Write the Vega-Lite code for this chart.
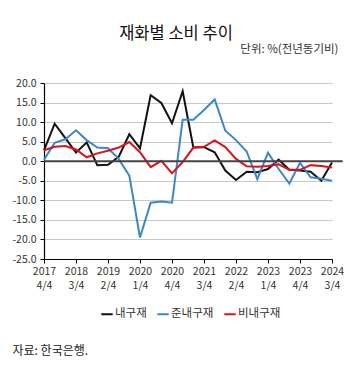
{
  "$schema": "https://vega.github.io/schema/vega-lite/v6.json",
  "width": 288,
  "height": 176,
  "autosize": {"type": "none"},
  "padding": {"left": 44, "top": 83, "right": 21, "bottom": 112},
  "background": "white",
  "config": {
    "font": "Noto Sans CJK KR",
    "view": {"stroke": null},
    "axis": {"labelFont": "Noto Sans CJK KR", "titleFont": "Noto Sans CJK KR", "labelColor": "#333", "titleColor": "#333"},
    "legend": {"labelFont": "Noto Sans CJK KR"}
  },
  "title": {
    "text": "재화별 소비 추이",
    "anchor": "middle",
    "frame": "group",
    "dx": -12,
    "dy": 1,
    "offset": 2,
    "fontSize": 16.5,
    "fontWeight": "normal",
    "color": "#111",
    "font": "Noto Sans CJK KR"
  },
  "layer": [
    {
      "data": {
        "values": [
          {"t": 2017.75, "series": "내구재", "value": 2.8}, {"t": 2018.0, "series": "내구재", "value": 9.6}, {"t": 2018.25, "series": "내구재", "value": 5.9}, {"t": 2018.5, "series": "내구재", "value": 2.2}, {"t": 2018.75, "series": "내구재", "value": 4.8}, {"t": 2019.0, "series": "내구재", "value": -1.0}, {"t": 2019.25, "series": "내구재", "value": -0.9}, {"t": 2019.5, "series": "내구재", "value": 1.1}, {"t": 2019.75, "series": "내구재", "value": 6.9}, {"t": 2020.0, "series": "내구재", "value": 3.3}, {"t": 2020.25, "series": "내구재", "value": 16.9}, {"t": 2020.5, "series": "내구재", "value": 14.9}, {"t": 2020.75, "series": "내구재", "value": 9.7}, {"t": 2021.0, "series": "내구재", "value": 17.9}, {"t": 2021.25, "series": "내구재", "value": 3.5}, {"t": 2021.5, "series": "내구재", "value": 3.6}, {"t": 2021.75, "series": "내구재", "value": 2.3}, {"t": 2022.0, "series": "내구재", "value": -2.4}, {"t": 2022.25, "series": "내구재", "value": -4.8}, {"t": 2022.5, "series": "내구재", "value": -2.7}, {"t": 2022.75, "series": "내구재", "value": -2.8}, {"t": 2023.0, "series": "내구재", "value": -2.0}, {"t": 2023.25, "series": "내구재", "value": 0.4}, {"t": 2023.5, "series": "내구재", "value": -2.2}, {"t": 2023.75, "series": "내구재", "value": -2.4}, {"t": 2024.0, "series": "내구재", "value": -2.7}, {"t": 2024.25, "series": "내구재", "value": -5.0}, {"t": 2024.5, "series": "내구재", "value": -0.3},
          {"t": 2017.75, "series": "준내구재", "value": 0.4}, {"t": 2018.0, "series": "준내구재", "value": 4.7}, {"t": 2018.25, "series": "준내구재", "value": 5.6}, {"t": 2018.5, "series": "준내구재", "value": 7.9}, {"t": 2018.75, "series": "준내구재", "value": 5.4}, {"t": 2019.0, "series": "준내구재", "value": 3.5}, {"t": 2019.25, "series": "준내구재", "value": 3.3}, {"t": 2019.5, "series": "준내구재", "value": 0.6}, {"t": 2019.75, "series": "준내구재", "value": -3.7}, {"t": 2020.0, "series": "준내구재", "value": -19.5}, {"t": 2020.25, "series": "준내구재", "value": -10.6}, {"t": 2020.5, "series": "준내구재", "value": -10.3}, {"t": 2020.75, "series": "준내구재", "value": -10.6}, {"t": 2021.0, "series": "준내구재", "value": 10.6}, {"t": 2021.25, "series": "준내구재", "value": 10.6}, {"t": 2021.5, "series": "준내구재", "value": 13.1}, {"t": 2021.75, "series": "준내구재", "value": 15.8}, {"t": 2022.0, "series": "준내구재", "value": 7.8}, {"t": 2022.25, "series": "준내구재", "value": 5.4}, {"t": 2022.5, "series": "준내구재", "value": 2.5}, {"t": 2022.75, "series": "준내구재", "value": -4.6}, {"t": 2023.0, "series": "준내구재", "value": 2.2}, {"t": 2023.25, "series": "준내구재", "value": -2.0}, {"t": 2023.5, "series": "준내구재", "value": -5.7}, {"t": 2023.75, "series": "준내구재", "value": -0.4}, {"t": 2024.0, "series": "준내구재", "value": -4.1}, {"t": 2024.25, "series": "준내구재", "value": -4.5}, {"t": 2024.5, "series": "준내구재", "value": -5.0},
          {"t": 2017.75, "series": "비내구재", "value": 2.8}, {"t": 2018.0, "series": "비내구재", "value": 3.7}, {"t": 2018.25, "series": "비내구재", "value": 3.9}, {"t": 2018.5, "series": "비내구재", "value": 3.0}, {"t": 2018.75, "series": "비내구재", "value": 1.0}, {"t": 2019.0, "series": "비내구재", "value": 2.0}, {"t": 2019.25, "series": "비내구재", "value": 2.7}, {"t": 2019.5, "series": "비내구재", "value": 3.5}, {"t": 2019.75, "series": "비내구재", "value": 4.9}, {"t": 2020.0, "series": "비내구재", "value": 2.3}, {"t": 2020.25, "series": "비내구재", "value": -1.5}, {"t": 2020.5, "series": "비내구재", "value": 0.1}, {"t": 2020.75, "series": "비내구재", "value": -3.1}, {"t": 2021.0, "series": "비내구재", "value": -0.2}, {"t": 2021.25, "series": "비내구재", "value": 3.5}, {"t": 2021.5, "series": "비내구재", "value": 3.7}, {"t": 2021.75, "series": "비내구재", "value": 5.3}, {"t": 2022.0, "series": "비내구재", "value": 3.6}, {"t": 2022.25, "series": "비내구재", "value": 0.6}, {"t": 2022.5, "series": "비내구재", "value": -1.3}, {"t": 2022.75, "series": "비내구재", "value": -1.4}, {"t": 2023.0, "series": "비내구재", "value": -1.2}, {"t": 2023.25, "series": "비내구재", "value": -0.8}, {"t": 2023.5, "series": "비내구재", "value": -2.2}, {"t": 2023.75, "series": "비내구재", "value": -2.2}, {"t": 2024.0, "series": "비내구재", "value": -1.0}, {"t": 2024.25, "series": "비내구재", "value": -1.2}, {"t": 2024.5, "series": "비내구재", "value": -1.6}
        ]
      },
      "mark": {"type": "line", "strokeWidth": 2, "clip": false},
      "encoding": {
        "x": {
          "field": "t",
          "type": "quantitative",
          "scale": {"domain": [2017.75, 2024.5], "nice": false, "zero": false},
          "axis": {
            "values": [2017.75, 2018.5, 2019.25, 2020.0, 2020.75, 2021.5, 2022.25, 2023.0, 2023.75, 2024.5],
            "tickCount": 40,
            "labelExpr": "[format(floor(datum.value), 'd'), format(round((datum.value - floor(datum.value)) * 4) + 1, 'd') + '/4']",
            "labelOverlap": false,
            "labelBound": false,
            "labelFlush": false,
            "grid": false,
            "domainColor": "#000",
            "domainWidth": 1.2,
            "tickColor": "#000",
            "tickSize": 4,
            "labelFontSize": 10.5,
            "labelLineHeight": 14,
            "labelPadding": 3,
            "labelColor": "#333",
            "title": "자료: 한국은행.",
            "titleFontSize": 12,
            "titleFontWeight": "normal",
            "titleColor": "#222",
            "titleX": -32,
            "titleY": 91,
            "titleAlign": "left",
            "titleBaseline": "middle"
          }
        },
        "y": {
          "field": "value",
          "type": "quantitative",
          "scale": {"domain": [-25, 20], "nice": false},
          "axis": {
            "values": [-25, -20, -15, -10, -5, 0, 5, 10, 15, 20],
            "tickCount": 40,
            "labelExpr": "(datum.value < 0 ? '-' : '') + format(abs(datum.value), '.1f')",
            "labelOverlap": false,
            "labelBound": false,
            "labelFlush": false,
            "grid": true,
            "gridColor": "#c8c8c8",
            "gridWidth": 1.2,
            "domainColor": "#000",
            "domainWidth": 1.2,
            "tickColor": "#000",
            "tickSize": 4,
            "labelFontSize": 10.5,
            "labelPadding": 4,
            "labelColor": "#333",
            "title": "단위: %(전년동기비)",
            "titleAngle": 0,
            "titleFontSize": 11.5,
            "titleFontWeight": "normal",
            "titleColor": "#333",
            "titleX": 294,
            "titleY": -34,
            "titleAlign": "right",
            "titleBaseline": "middle"
          }
        },
        "color": {
          "field": "series",
          "type": "nominal",
          "scale": {"domain": ["내구재", "준내구재", "비내구재"], "range": ["#111111", "#3d87c9", "#d7141c"]},
          "legend": {
            "title": null,
            "orient": "none",
            "direction": "horizontal",
            "legendX": 56,
            "legendY": 224,
            "symbolType": "stroke",
            "symbolSize": 130,
            "symbolStrokeWidth": 2,
            "labelFontSize": 11.5,
            "labelColor": "#333",
            "labelOffset": 1,
            "columnPadding": 6
          }
        }
      }
    },
    {
      "data": {"values": [{"v": 0, "start": 2017.75, "end": 2024.75}]},
      "mark": {"type": "rule", "color": "#444", "strokeWidth": 2, "clip": false},
      "encoding": {
        "y": {"field": "v", "type": "quantitative"},
        "x": {"field": "start", "type": "quantitative"},
        "x2": {"field": "end"}
      }
    }
  ]
}
